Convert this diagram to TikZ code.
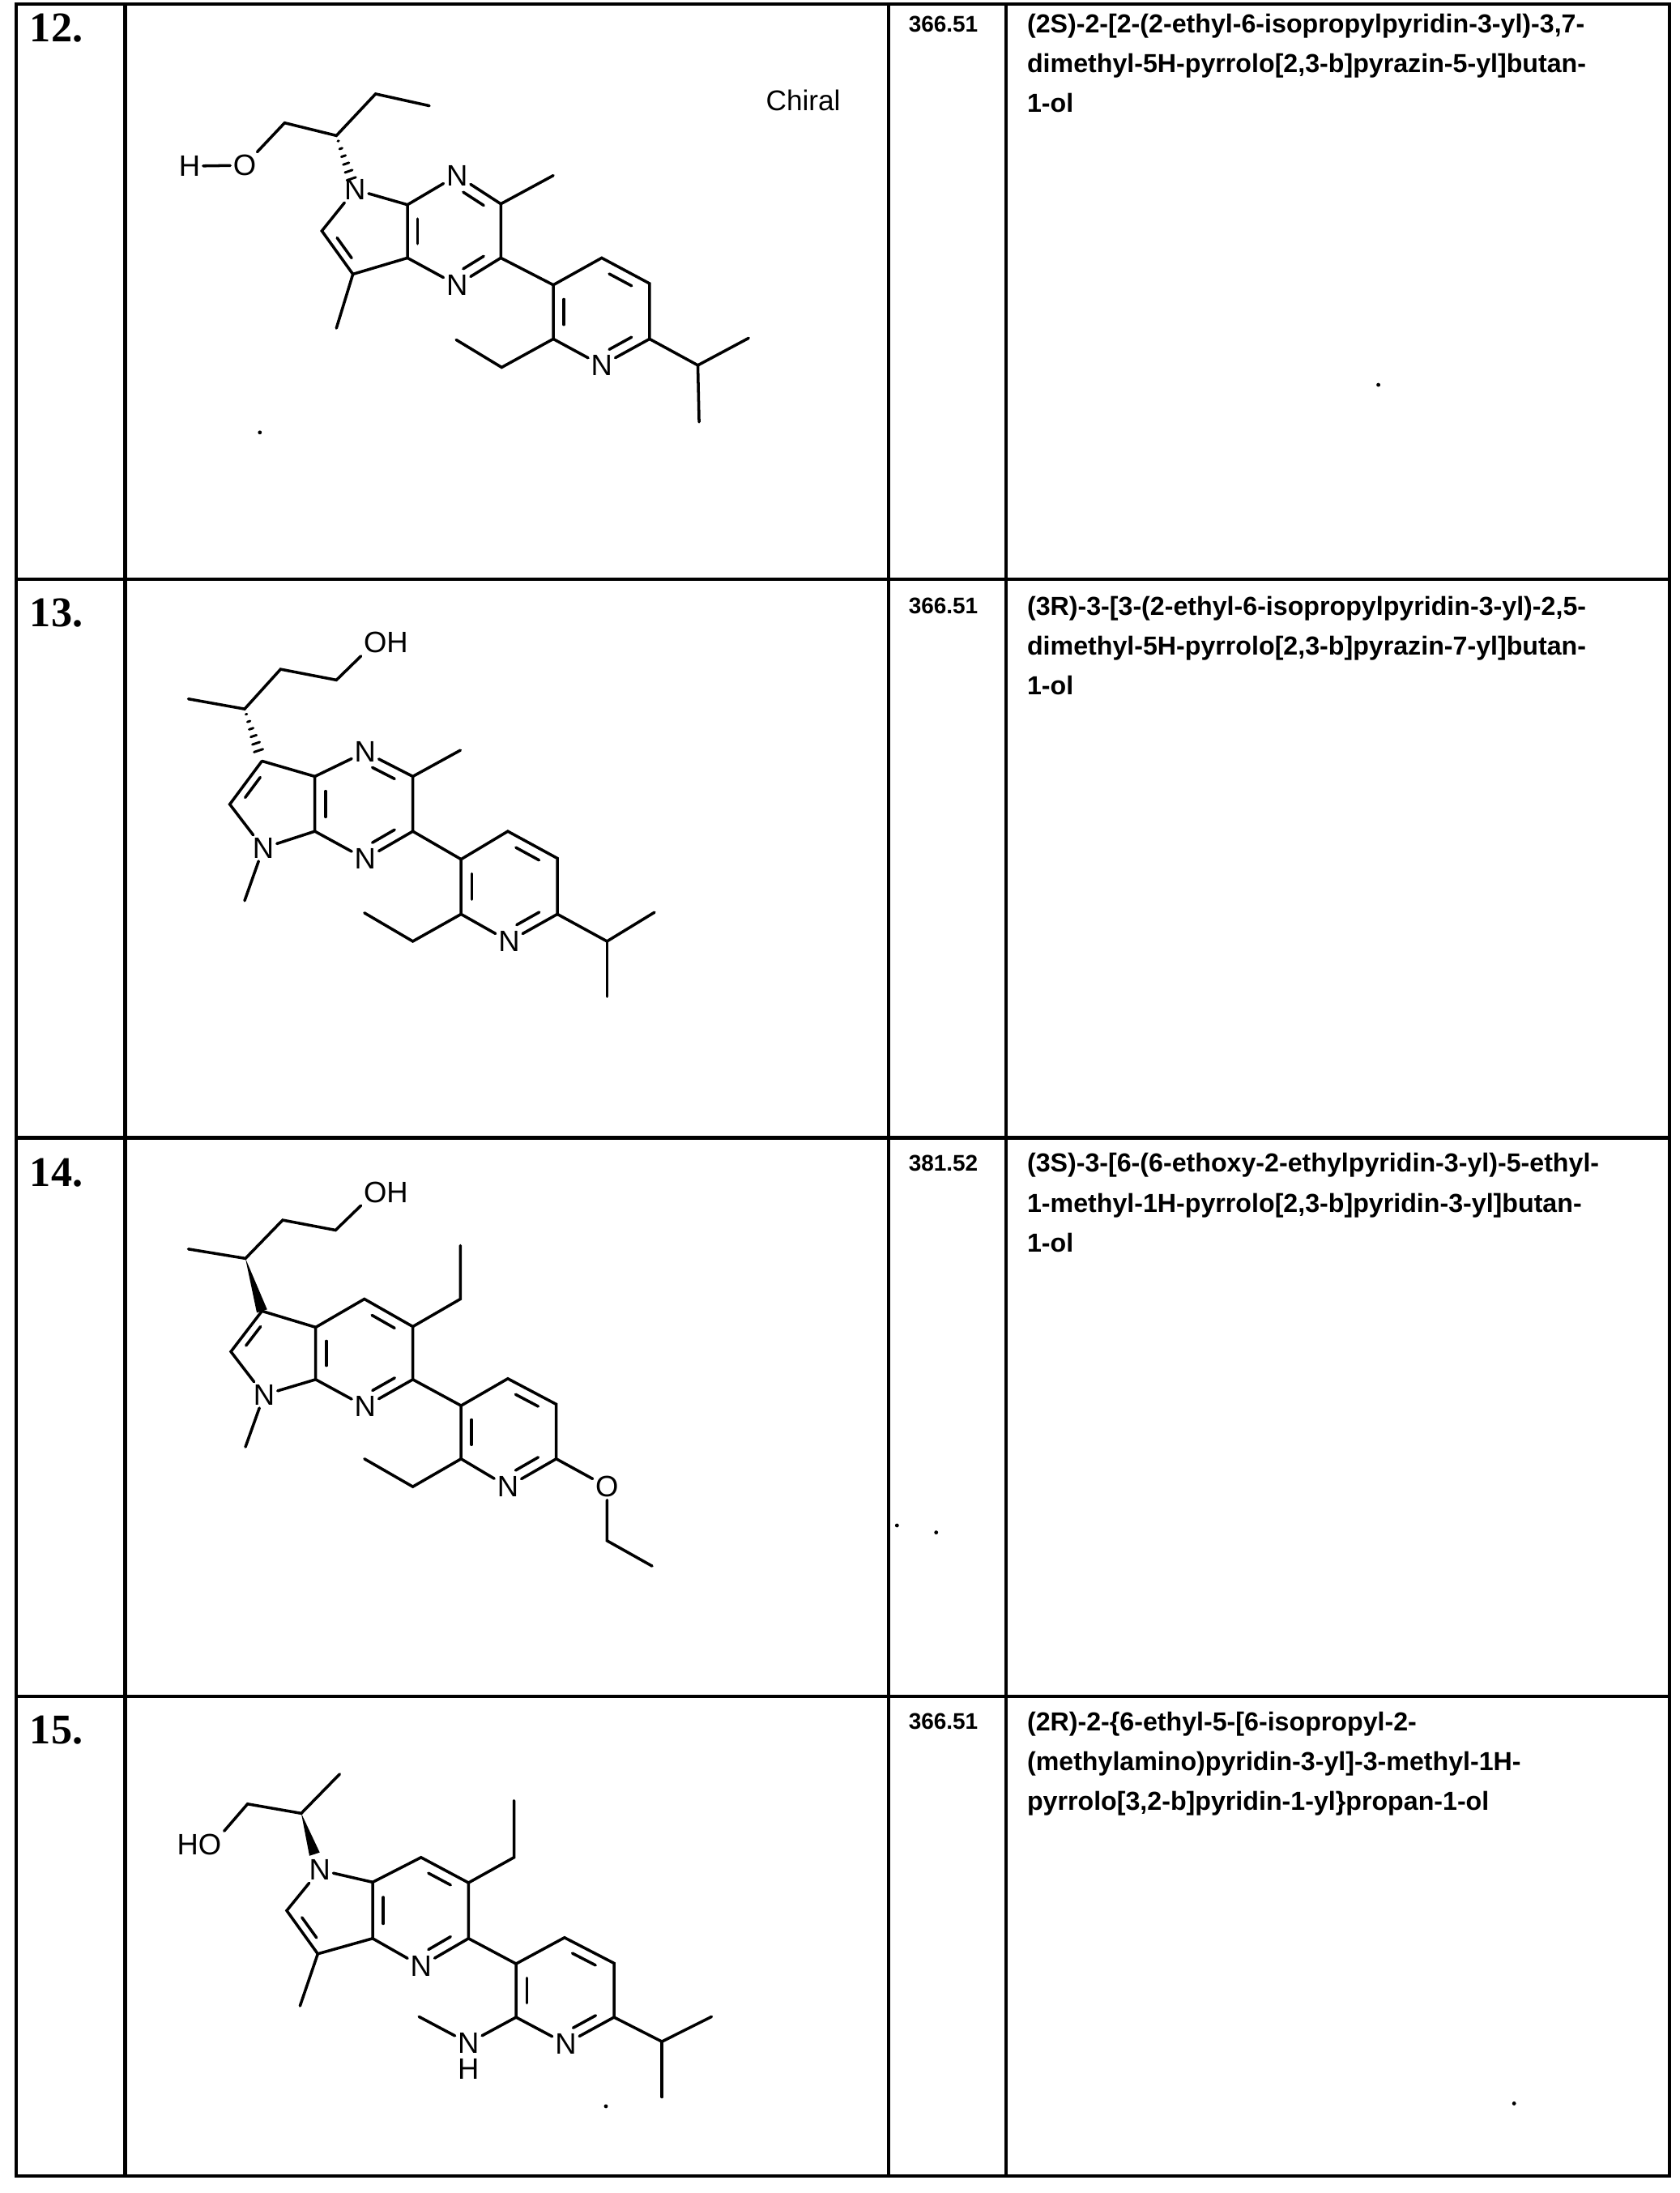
\documentclass[tikz,border=0pt]{standalone}
\usepackage{fontspec}
\setmainfont{Liberation Serif}
\newfontfamily\arialf{Liberation Sans}
\usetikzlibrary{calc}
\newcommand\dbl[3]{\draw ($(#1)!0.2!(#2)!0.22!(#3)$) -- ($(#2)!0.2!(#1)!0.22!(#3)$);}
\newcommand\hashw[2]{\foreach \t [evaluate=\t as \w using \t*6] in {0.1,0.24,0.38,0.52,0.66,0.8}{\draw[line width=2.4pt] ($(#1)!\t!(#2)!\w pt!90:(#2)$) -- ($(#1)!\t!(#2)!\w pt!-90:(#2)$);}}
\newcommand\solidw[2]{\fill (#1) -- ($(#2)!5.5pt!90:(#1)$) -- ($(#2)!5.5pt!-90:(#1)$) -- cycle;}
\begin{document}
\begin{tikzpicture}[x=0.05cm,y=-0.05cm,line width=2.9pt,line cap=round,
  atom/.style={font=\arialf\fontsize{30}{30}\selectfont, inner sep=1.5pt},
  rowlab/.style={font=\fontsize{43}{43}\selectfont\bfseries, anchor=west},
  mw/.style={font=\arialf\fontsize{23}{23}\selectfont\bfseries, anchor=north west},
  chemname/.style={font=\arialf\fontsize{26.5}{40.5}\selectfont\bfseries, anchor=north west, align=left, inner sep=0pt},
  grid/.style={line width=3.6pt, line cap=rect}]
\fill[white] (0,0) rectangle (1200,1567);
\useasboundingbox (0,0) rectangle (1200,1567);
% table
\draw[grid] (11.5,3) rectangle (1193,1555);
\foreach \yy in {414,813,1212} \draw[grid] (11.5,\yy) -- (1193,\yy);
\foreach \xx in {89.5,635,719} \draw[grid] (\xx,3) -- (\xx,1555);
% row labels, MW, names
\node[rowlab] (l12) at (18,20) {12.};
\node[rowlab] (l13) at (18,438) {13.};
\node[rowlab] (l14) at (18,838) {14.};
\node[rowlab] (l15) at (18,1236) {15.};
\node[mw] (m12) at (646,8) {366.51};
\node[mw] (m13) at (646,424) {366.51};
\node[mw] (m14) at (646,822) {381.52};
\node[mw] (m15) at (646,1221) {366.51};
\node[chemname] (n12) at (733,9) {(2S)-2-[2-(2-ethyl-6-isopropylpyridin-3-yl)-3,7-\\dimethyl-5H-pyrrolo[2,3-b]pyrazin-5-yl]butan-\\1-ol};
\node[chemname] (n13) at (733,425) {(3R)-3-[3-(2-ethyl-6-isopropylpyridin-3-yl)-2,5-\\dimethyl-5H-pyrrolo[2,3-b]pyrazin-7-yl]butan-\\1-ol};
\node[chemname] (n14) at (733,823) {(3S)-3-[6-(6-ethoxy-2-ethylpyridin-3-yl)-5-ethyl-\\1-methyl-1H-pyrrolo[2,3-b]pyridin-3-yl]butan-\\1-ol};
\node[chemname] (n15) at (733,1222) {(2R)-2-\{6-ethyl-5-[6-isopropyl-2-\\(methylamino)pyridin-3-yl]-3-methyl-1H-\\pyrrolo[3,2-b]pyridin-1-yl\}propan-1-ol};
\node[font=\arialf\fontsize{29}{29}\selectfont] (chiral) at (574,72) {Chiral};
% stray dots
\foreach \p in {(185.7,309),(985,275),(641,1090),(669,1095),(433,1505),(1082,1503)} \fill \p circle (1.4);

% ===== 12 =====
\node[atom] (aH) at (135.5,118.7) {H};
\node[atom] (aO) at (174.8,118.1) {O};
\coordinate (a1) at (203.4,87.8); \coordinate (aS) at (240.4,96.9);
\coordinate (aE1) at (268.4,67.1); \coordinate (aE2) at (306.8,75.6);
\node[atom] (aN5) at (253.7,135.5) {N};
\coordinate (a6) at (230,165); \coordinate (a7) at (252.2,195.9); \coordinate (a7m) at (240.4,234.5);
\coordinate (a7a) at (291.2,184.3); \coordinate (a4a) at (291.2,146.3);
\node[atom] (aN4) at (326.6,125.4) {N};
\coordinate (a3) at (357.9,145.7); \coordinate (a3m) at (395.4,125.4); \coordinate (a2) at (357.9,184.3);
\node[atom] (aN1) at (326.6,203.6) {N};
\coordinate (ap3) at (395.4,203.6); \coordinate (ap4) at (430,184.3); \coordinate (ap5) at (464.2,202.6);
\coordinate (ap6) at (464.2,242.2); \node[atom] (apN) at (430,261) {N}; \coordinate (ap2) at (395.4,242.2);
\coordinate (ae1) at (358.5,262.5); \coordinate (ae2) at (326,242.8);
\coordinate (ai) at (498.7,261); \coordinate (ai1) at (535,241.6); \coordinate (ai2) at (499.6,301.5);
\coordinate (ac5) at (263.7,165.4); \coordinate (ac6) at (324.5,165); \coordinate (acp) at (430,223);
\draw (aH)--(aO); \draw (aO)--(a1)--(aS)--(aE1)--(aE2);
\hashw{aS}{aN5}
\draw (aN5)--(a6)--(a7)--(a7a)--(a4a)--(aN5); \draw (a7)--(a7m);
\draw (a4a)--(aN4)--(a3)--(a2)--(aN1)--(a7a); \draw (a3)--(a3m);
\draw (a2)--(ap3)--(ap4)--(ap5)--(ap6)--(apN)--(ap2)--(ap3);
\draw (ap2)--(ae1)--(ae2); \draw (ap6)--(ai)--(ai1); \draw (ai)--(ai2);
\dbl{a6}{a7}{ac5} \dbl{a7a}{a4a}{ac6} \dbl{aN4}{a3}{ac6} \dbl{a2}{aN1}{ac6}
\dbl{ap3}{ap2}{acp} \dbl{ap4}{ap5}{acp} \dbl{ap6}{apN}{acp}

% ===== 13 =====
\node[atom] (bOH) at (275.8,459.3) {OH};
\coordinate (b1) at (240.4,485.9); \coordinate (b2) at (200.5,478.2);
\coordinate (bS) at (174.8,506.6); \coordinate (bMe) at (134.6,499.4);
\coordinate (b3) at (187.2,543.8); \coordinate (b2r) at (164.2,574.7);
\node[atom] (bN1) at (188.1,606) {N}; \coordinate (bNm) at (174.8,643.6);
\coordinate (b7a) at (225,594); \coordinate (b3a) at (225,554.8);
\node[atom] (bNt) at (261,537.4) {N}; \coordinate (bc1) at (295,554.8); \coordinate (bcm) at (329,536.1);
\coordinate (bc2) at (295,594); \node[atom] (bNb) at (261,613.7) {N};
\coordinate (bp3) at (329.5,614); \coordinate (bp4) at (362.9,594); \coordinate (bp5) at (398.3,613.3);
\coordinate (bp6) at (398.3,653.2); \node[atom] (bpN) at (363.8,672.6) {N}; \coordinate (bp2) at (329.5,653.2);
\coordinate (be1) at (295,672.6); \coordinate (be2) at (260.4,652.3);
\coordinate (bi) at (433.8,672.6); \coordinate (bi1) at (467.7,651.9); \coordinate (bi2) at (433.8,712.1);
\coordinate (bc5) at (197.9,574.7); \coordinate (bc6) at (260,575); \coordinate (bcp) at (364,633);
\draw (bOH.south west)--(b1)--(b2)--(bS)--(bMe);
\hashw{bS}{b3}
\draw (b3)--(b2r)--(bN1)--(b7a)--(b3a)--(b3); \draw (bN1)--(bNm);
\draw (b3a)--(bNt)--(bc1)--(bc2)--(bNb)--(b7a); \draw (bc1)--(bcm);
\draw (bc2)--(bp3)--(bp4)--(bp5)--(bp6)--(bpN)--(bp2)--(bp3);
\draw (bp2)--(be1)--(be2); \draw (bp6)--(bi)--(bi1); \draw (bi)--(bi2);
\dbl{b3}{b2r}{bc5} \dbl{b7a}{b3a}{bc6} \dbl{bNt}{bc1}{bc6} \dbl{bc2}{bNb}{bc6}
\dbl{bp3}{bp2}{bcp} \dbl{bp4}{bp5}{bcp} \dbl{bp6}{bpN}{bcp}

% ===== 14 =====
\node[atom] (cOH) at (275.8,851.9) {OH};
\coordinate (c1) at (239.8,879); \coordinate (c2) at (202,871.8);
\coordinate (cS) at (175.4,899.2); \coordinate (cMe) at (134.6,892.5);
\coordinate (c3) at (187.2,936.8); \coordinate (c2r) at (165,965.8);
\node[atom] (cN1) at (188.7,996.7) {N}; \coordinate (cNm) at (175.4,1033.9);
\coordinate (c7a) at (225.6,985.7); \coordinate (c3a) at (225.6,948.4);
\coordinate (c4) at (260.4,928.2); \coordinate (c5) at (295,947.9);
\coordinate (c5e1) at (329,928.2); \coordinate (c5e2) at (329,890);
\coordinate (c6) at (295,985.7); \node[atom] (cN7) at (261,1005) {N};
\coordinate (cp3) at (329.5,1004.4); \coordinate (cp4) at (362.9,985.1); \coordinate (cp5) at (397.5,1003.4);
\coordinate (cp6) at (397.5,1042.4); \node[atom] (cpN) at (362.9,1062.3) {N}; \coordinate (cp2) at (329.5,1042.4);
\coordinate (ce1) at (295,1062.3); \coordinate (ce2) at (260.4,1042.4);
\node[atom] (cO) at (433.8,1062.3) {O}; \coordinate (co1) at (433.8,1100.9); \coordinate (co2) at (466,1119);
\coordinate (cc5) at (198.4,966.7); \coordinate (cc6) at (260.4,966.8); \coordinate (ccp) at (363.5,1023.3);
\draw (cOH.south west)--(c1)--(c2)--(cS)--(cMe);
\solidw{cS}{c3}
\draw (c3)--(c2r)--(cN1)--(c7a)--(c3a)--(c3); \draw (cN1)--(cNm);
\draw (c3a)--(c4)--(c5)--(c6)--(cN7)--(c7a); \draw (c5)--(c5e1)--(c5e2);
\draw (c6)--(cp3)--(cp4)--(cp5)--(cp6)--(cpN)--(cp2)--(cp3);
\draw (cp2)--(ce1)--(ce2); \draw (cp6)--(cO)--(co1)--(co2);
\dbl{c3}{c2r}{cc5} \dbl{c7a}{c3a}{cc6} \dbl{c4}{c5}{cc6} \dbl{c6}{cN7}{cc6}
\dbl{cp3}{cp2}{ccp} \dbl{cp4}{cp5}{ccp} \dbl{cp6}{cpN}{ccp}

% ===== 15 =====
\node[atom] (dHO) at (142.3,1317.9) {HO};
\coordinate (d1) at (176.9,1289); \coordinate (dS) at (215.3,1295.7); \coordinate (dMe) at (242.7,1267.7);
\node[atom] (dN1) at (228.5,1336.2) {N};
\coordinate (dw) at ($(dS)!0.72!(dN1)$);
\coordinate (d2) at (204.9,1365.2); \coordinate (d3) at (227.1,1396.1); \coordinate (d3m) at (214.4,1433.3);
\coordinate (d3a) at (266.3,1385.1); \coordinate (d7a) at (266.3,1344.9);
\coordinate (d7) at (300.9,1327.2); \coordinate (d6) at (334.8,1345.3);
\coordinate (d6e1) at (367.3,1327.2); \coordinate (d6e2) at (367.3,1286.6);
\coordinate (d5) at (334.8,1385.1); \node[atom] (dN4) at (300.9,1404.8) {N};
\coordinate (dp3) at (368.8,1403.2); \coordinate (dp4) at (403.4,1384.5); \coordinate (dp5) at (438.8,1402.8);
\coordinate (dp6) at (438.8,1441.4); \node[atom] (dpN) at (404.3,1460.3) {N}; \coordinate (dp2) at (368.8,1441.4);
\node[atom] (dNH) at (334.8,1459.8) {N}; \node[atom] (dHH) at (334.8,1478.6) {H};
\coordinate (dNm) at (299.4,1441);
\coordinate (di) at (473,1458.8); \coordinate (di1) at (508.5,1441); \coordinate (di2) at (473,1498.4);
\coordinate (dc5) at (238.6,1365.5); \coordinate (dc6) at (300.7,1365.4); \coordinate (dcp) at (403.8,1422.3);
\draw (dHO.north east)--(d1)--(dS)--(dMe);
\solidw{dS}{dw}
\draw (dN1)--(d2)--(d3)--(d3a)--(d7a)--(dN1); \draw (d3)--(d3m);
\draw (d7a)--(d7)--(d6)--(d5)--(dN4)--(d3a); \draw (d6)--(d6e1)--(d6e2);
\draw (d5)--(dp3)--(dp4)--(dp5)--(dp6)--(dpN)--(dp2)--(dp3);
\draw (dp2)--(dNH)--(dNm); \draw (dp6)--(di)--(di1); \draw (di)--(di2);
\dbl{d2}{d3}{dc5} \dbl{d3a}{d7a}{dc6} \dbl{d7}{d6}{dc6} \dbl{d5}{dN4}{dc6}
\dbl{dp3}{dp2}{dcp} \dbl{dp4}{dp5}{dcp} \dbl{dp6}{dpN}{dcp}
\end{tikzpicture}
\end{document}
